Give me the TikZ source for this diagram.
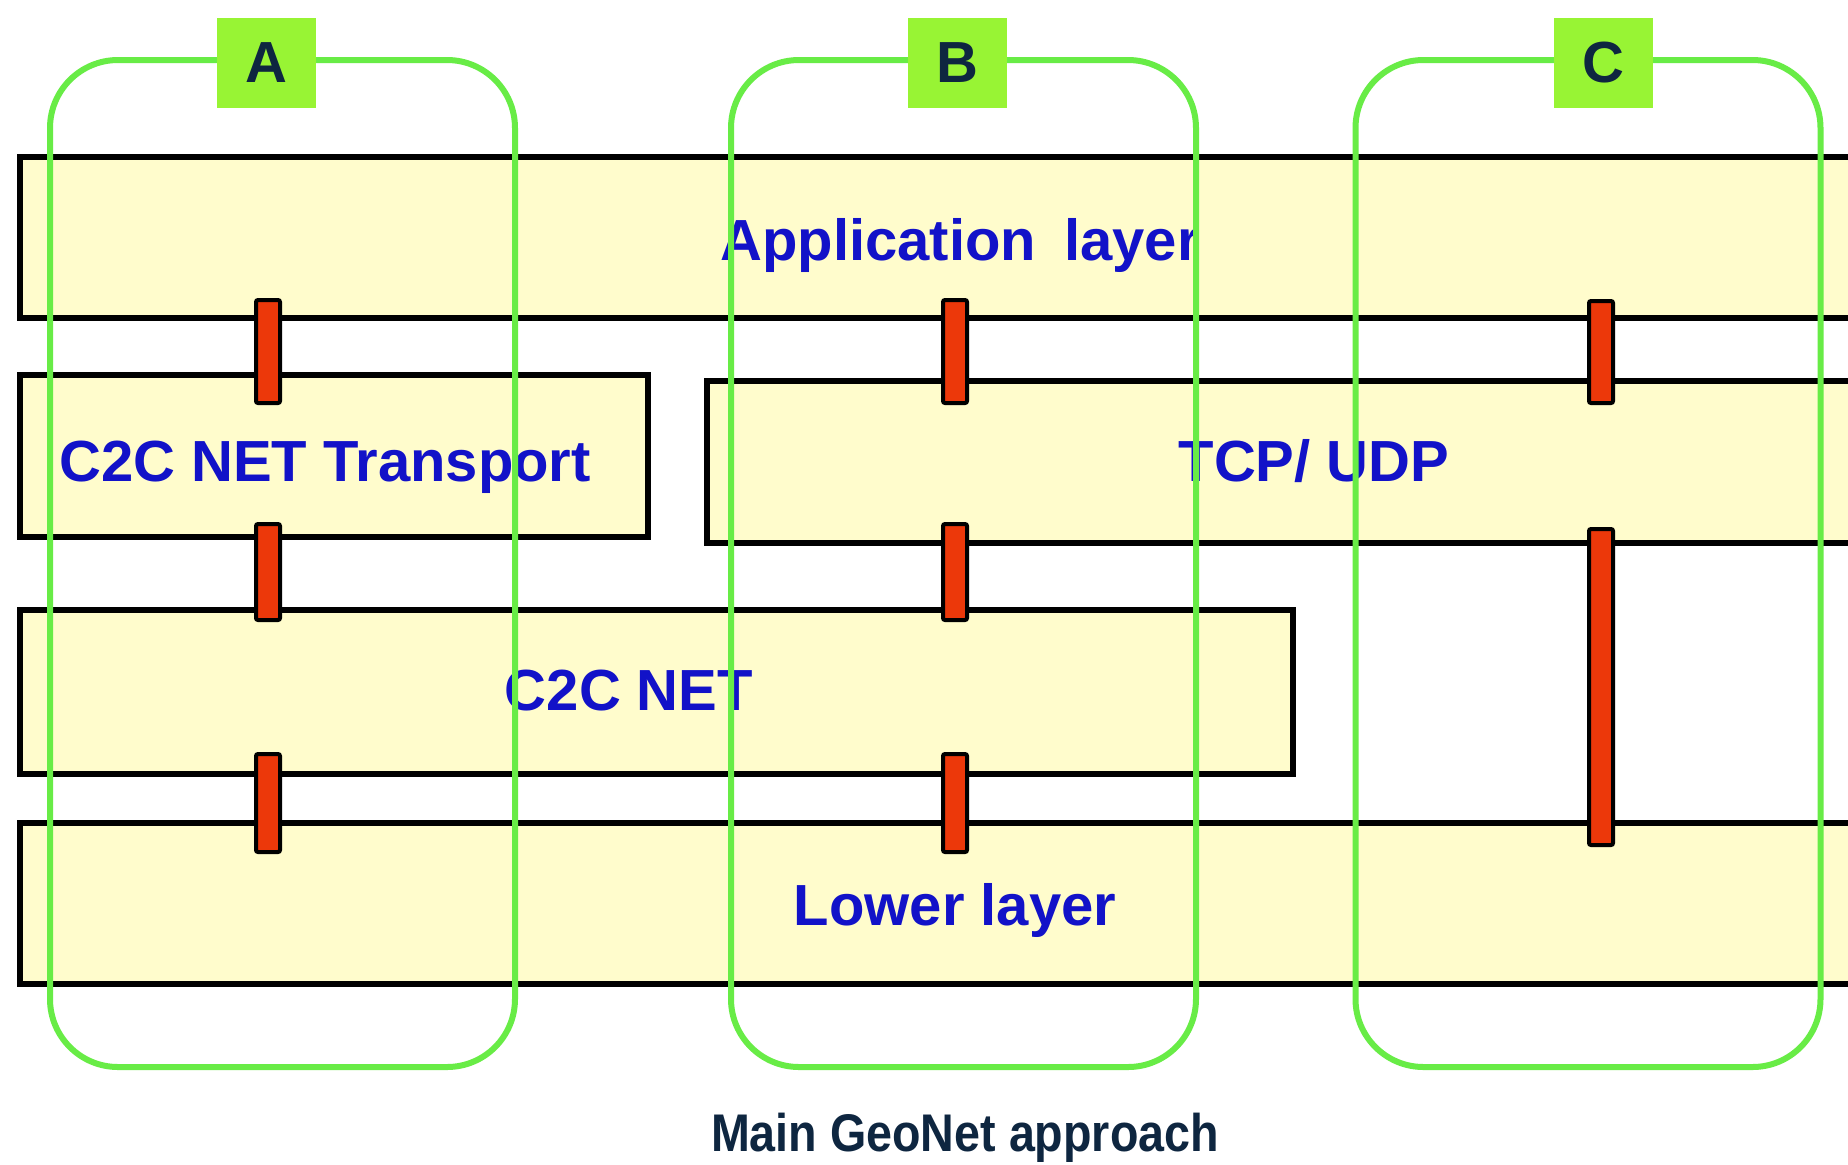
\documentclass[tikz,border=0pt]{standalone}
\usepackage{fontspec}
\setmainfont{Liberation Sans}
\usepackage{graphicx}
\definecolor{layerfill}{RGB}{255,252,204}
\definecolor{grp}{RGB}{104,236,70}
\definecolor{labfill}{RGB}{152,244,52}
\definecolor{barred}{RGB}{236,56,10}
\definecolor{txtblue}{RGB}{18,18,200}
\definecolor{navy}{RGB}{14,38,64}
\tikzset{
  layerbox/.style={draw=black, line width=3pt, fill=layerfill, inner sep=0pt, outer sep=0pt},
  redbar/.style={draw=black, line width=2pt, fill=barred, rounded corners=1pt, inner sep=0pt, minimum width=12pt},
  laytext/.style={text=txtblue, font=\bfseries\fontsize{29}{34}\selectfont, inner sep=0pt, anchor=base},
  grpbox/.style={draw=grp, line width=3pt, rounded corners=34pt, inner sep=0pt, minimum width=232.5pt, minimum height=503.5pt},
  labbox/.style={fill=labfill, inner sep=0pt, minimum width=49.5pt, minimum height=45pt, text=navy, font=\bfseries\fontsize{29}{34}\selectfont}
}
\begin{document}
\begin{tikzpicture}[x=0.5pt,y=-0.5pt]
\useasboundingbox (0,0) rectangle (1848,1164);
\clip (0,0) rectangle (1848,1164);
\fill[white] (0,0) rectangle (1848,1164);
% layer boxes
\node[layerbox, minimum width=925pt, minimum height=80.5pt] (app) at (945,237.5) {};
\node[layerbox, minimum width=314pt, minimum height=81pt] (trans) at (334,456) {};
\node[layerbox, minimum width=581.5pt, minimum height=81pt] (tcp) at (1288.5,462) {};
\node[layerbox, minimum width=636.5pt, minimum height=82pt] (net) at (656.5,692) {};
\node[layerbox, minimum width=925pt, minimum height=80.5pt] (low) at (945,903.5) {};
% red bars
\node[redbar, minimum height=51.5pt] (a1) at (268,351.5) {};
\node[redbar, minimum height=48pt] (a2) at (268,572) {};
\node[redbar, minimum height=49pt] (a3) at (268,803) {};
\node[redbar, minimum height=51.5pt] (b1) at (955,351.5) {};
\node[redbar, minimum height=48pt] (b2) at (955,572) {};
\node[redbar, minimum height=49pt] (b3) at (955,803) {};
\node[redbar, minimum height=51pt] (c1) at (1601,352) {};
\node[redbar, minimum height=158pt] (c2) at (1601,687) {};
% layer texts
\node[laytext] (tapp) at (960,260) {Application\hspace{6pt} layer};
\node[laytext] (ttrans) at (325,481) {C2C NET Transport};
\node[laytext] (ttcp) at (1314,481) {TCP/ UDP};
\node[laytext] (tnet) at (629,710) {C2C NET};
\node[laytext] (tlow) at (955,925) {Lower layer};
% group frames
\node[grpbox] (ga) at (282.5,563.5) {};
\node[grpbox] (gb) at (963.5,563.5) {};
\node[grpbox] (gc) at (1588,563.5) {};
\node[labbox] (la) at (266.5,63) {A};
\node[labbox] (lb) at (957.5,63) {B};
\node[labbox] (lc) at (1603,63) {C};
% caption
\node[text=navy, inner sep=0pt, anchor=base] (cap) at (965,1151) {\scalebox{0.88}[1]{\bfseries\fontsize{26.5}{30}\selectfont Main GeoNet approach}};
\end{tikzpicture}
\end{document}
